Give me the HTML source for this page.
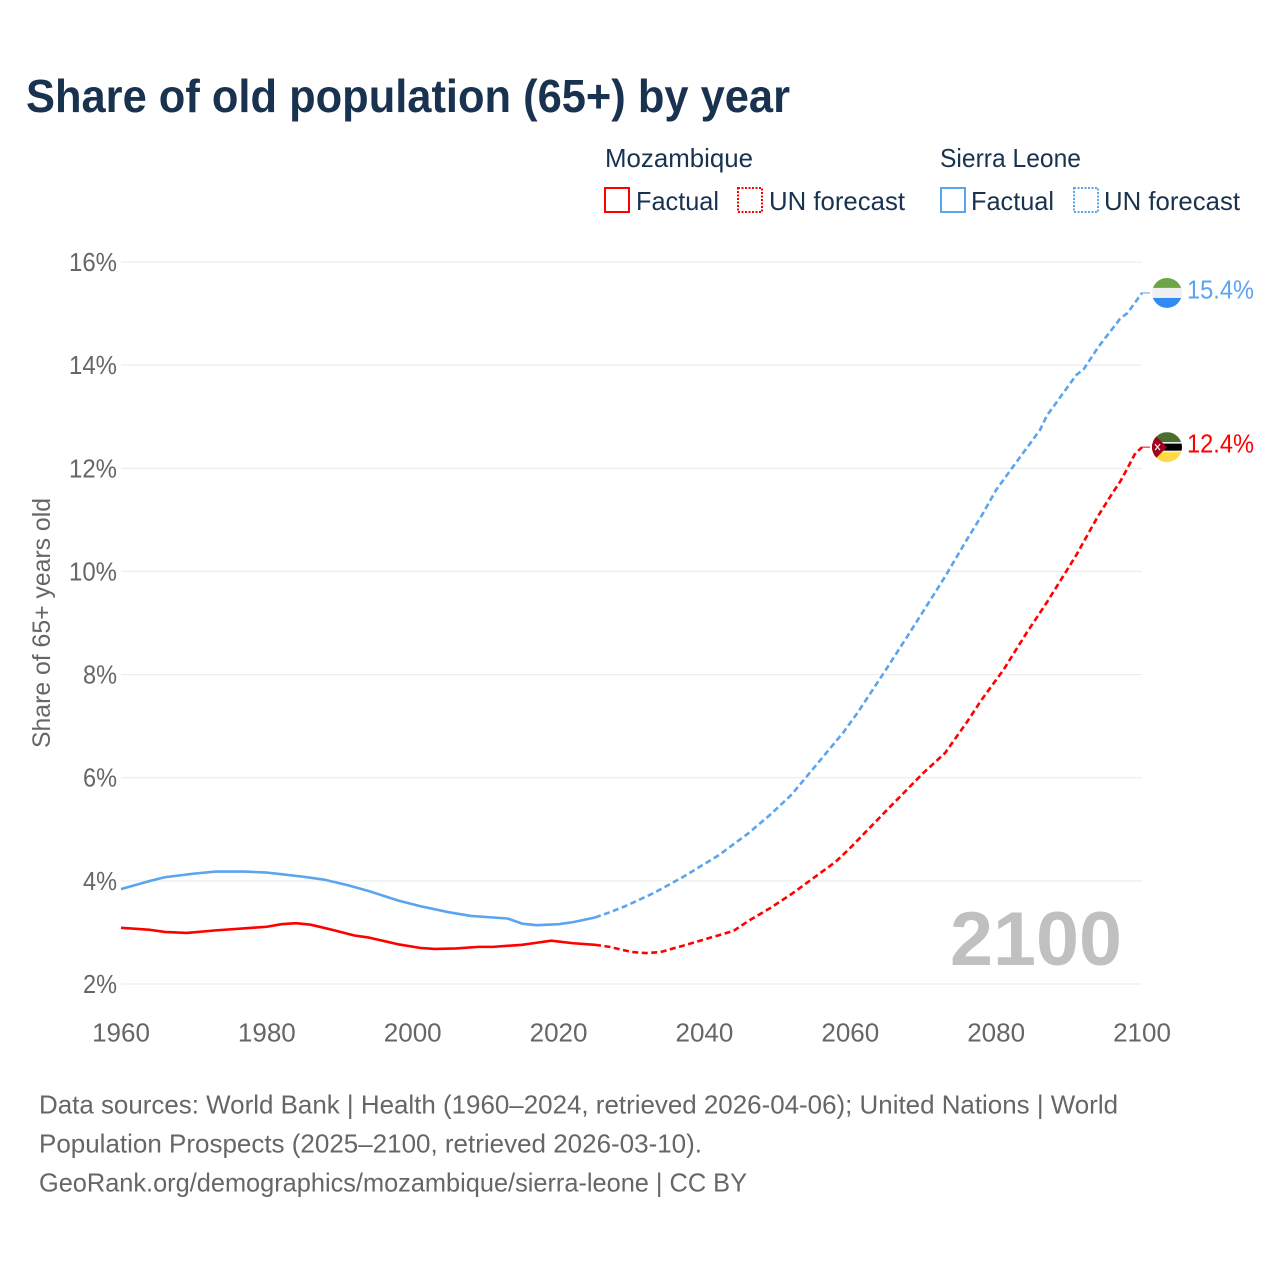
<!DOCTYPE html>
<html lang="en">
<head>
<meta charset="utf-8">
<title>Share of old population (65+) by year</title>
<style>
html,body{margin:0;padding:0;background:#fff;}
svg{display:block;font-family:"Liberation Sans",sans-serif;}
</style>
</head>
<body>
<svg id="chart" xmlns="http://www.w3.org/2000/svg" width="1280" height="1280" viewBox="0 0 1280 1280">
  <rect width="1280" height="1280" fill="#fff"/>
  <text x="26" y="112" font-size="46" font-weight="700" fill="#18324f" textLength="764" lengthAdjust="spacingAndGlyphs">Share of old population (65+) by year</text>

  <g font-size="26" fill="#18324f">
    <text x="605" y="167" textLength="148" lengthAdjust="spacingAndGlyphs">Mozambique</text>
    <text x="940" y="167" textLength="141" lengthAdjust="spacingAndGlyphs">Sierra Leone</text>
    <rect x="605" y="188" width="24" height="24" fill="none" stroke="#ff0000" stroke-width="2"/>
    <text x="636" y="210" textLength="83" lengthAdjust="spacingAndGlyphs">Factual</text>
    <rect x="738" y="188" width="24" height="24" fill="none" stroke="#ff0000" stroke-width="2" stroke-dasharray="2 1.5"/>
    <text x="769" y="210" textLength="136" lengthAdjust="spacingAndGlyphs">UN forecast</text>
    <rect x="941" y="188" width="24" height="24" fill="none" stroke="#5ba4f0" stroke-width="2"/>
    <text x="971" y="210" textLength="83" lengthAdjust="spacingAndGlyphs">Factual</text>
    <rect x="1074" y="188" width="24" height="24" fill="none" stroke="#5ba4f0" stroke-width="2" stroke-dasharray="2 1.5"/>
    <text x="1104" y="210" textLength="136" lengthAdjust="spacingAndGlyphs">UN forecast</text>
  </g>

  <g id="grid"></g>
  <g id="yticks"></g>
  <g id="xticks"></g>
  <text transform="translate(50,748) rotate(-90)" font-size="25" fill="#666" textLength="250" lengthAdjust="spacingAndGlyphs">Share of 65+ years old</text>

  <text x="950" y="965" font-size="76" font-weight="700" fill="#c0c0c0" textLength="172" lengthAdjust="spacingAndGlyphs">2100</text>

  <g id="series"></g>

  <defs>
    <clipPath id="flag-clip-sl"><circle id="clip-sl" cx="1167" r="15"/></clipPath>
    <clipPath id="flag-clip-mz"><circle id="clip-mz" cx="1167" r="15"/></clipPath>
  </defs>
  <g id="flag-sl" clip-path="url(#flag-clip-sl)">
    <rect x="1152" y="-15" width="30" height="10" fill="#6da544"/>
    <rect x="1152" y="-5" width="30" height="10" fill="#f0f0f0"/>
    <rect x="1152" y="5" width="30" height="10" fill="#338af3"/>
  </g>
  <g id="flag-mz" clip-path="url(#flag-clip-mz)">
    <rect x="1152" y="-15" width="30" height="10" fill="#496e2d"/>
    <rect x="1152" y="-5" width="30" height="10" fill="#f0f0f0"/>
    <rect x="1152" y="-3.5" width="30" height="7" fill="#000"/>
    <rect x="1152" y="5" width="30" height="10" fill="#ffda44"/>
    <polygon points="1152,-15 1167,0 1152,15" fill="#a2001d"/>
    <path d="M1155-3l5 6M1160-3l-5 6" stroke="#f0f0f0" stroke-width="1.2"/>
  </g>
  <text id="label-sl" x="1187" font-size="26" fill="#5ba4f0" textLength="67" lengthAdjust="spacingAndGlyphs"></text>
  <text id="label-mz" x="1187" font-size="26" fill="#ff0000" textLength="67" lengthAdjust="spacingAndGlyphs"></text>

  <g font-size="26" fill="#666">
    <text x="39" y="1113.5" textLength="1079" lengthAdjust="spacingAndGlyphs">Data sources: World Bank | Health (1960–2024, retrieved 2026-04-06); United Nations | World</text>
    <text x="39" y="1152.5" textLength="663" lengthAdjust="spacingAndGlyphs">Population Prospects (2025–2100, retrieved 2026-03-10).</text>
    <text x="39" y="1191.5" textLength="708" lengthAdjust="spacingAndGlyphs">GeoRank.org/demographics/mozambique/sierra-leone | CC BY</text>
  </g>
</svg>
<script>
const yTickValues = [2, 4, 6, 8, 10, 12, 14, 16];
const xTickValues = [1960, 1980, 2000, 2020, 2040, 2060, 2080, 2100];

const sierraFactualYears = [1960,1962,1964,1966,1970,1973,1977,1980,1982,1985,1988,1991,1994,1998,2001,2005,2008,2012,2013,2015,2017,2020,2022,2025];
const sierraFactualValues = [3.84,3.92,4.0,4.07,4.14,4.18,4.18,4.16,4.13,4.08,4.02,3.92,3.8,3.62,3.51,3.39,3.32,3.28,3.27,3.17,3.14,3.16,3.2,3.29];
const sierraForecastYears = [2025,2027,2029,2033,2037,2042,2046,2049,2052,2054,2056,2059,2061,2065,2068,2071,2073,2076,2078,2080,2082,2086,2087,2089,2091,2092,2094,2097,2098,2100];
const sierraForecastValues = [3.29,3.39,3.5,3.76,4.07,4.5,4.92,5.28,5.68,6.02,6.36,6.87,7.26,8.12,8.78,9.45,9.9,10.62,11.08,11.58,11.97,12.74,13.03,13.42,13.81,13.92,14.35,14.9,15.01,15.4];

const mozFactualYears = [1960,1964,1966,1969,1973,1977,1980,1982,1984,1986,1989,1992,1994,1998,2001,2003,2006,2009,2011,2015,2017,2019,2022,2025];
const mozFactualValues = [3.09,3.05,3.01,2.99,3.04,3.08,3.11,3.16,3.18,3.15,3.05,2.94,2.9,2.77,2.7,2.68,2.69,2.72,2.72,2.76,2.8,2.84,2.79,2.76];
const mozForecastYears = [2025,2027,2030,2032,2034,2037,2044,2046,2049,2052,2055,2058,2060,2065,2070,2073,2076,2078,2081,2084,2087,2090,2091,2094,2096,2097,2098,2099,2100];
const mozForecastValues = [2.76,2.72,2.62,2.6,2.62,2.74,3.03,3.22,3.47,3.75,4.06,4.37,4.64,5.37,6.09,6.48,7.08,7.51,8.09,8.77,9.41,10.09,10.32,11.08,11.53,11.74,12.0,12.27,12.41];

const NS = 'http://www.w3.org/2000/svg';
const xScale = function (year) { return 121 + (year - 1960) * (1142 - 121) / 140; };
const yScale = function (value) { return 984 - (value - 2) * (984 - 262) / 14; };

const gridGroup = document.getElementById('grid');
const yTickGroup = document.getElementById('yticks');
const xTickGroup = document.getElementById('xticks');
const seriesGroup = document.getElementById('series');

yTickValues.forEach(function (v) {
  const line = document.createElementNS(NS, 'line');
  
  
  line.setAttribute('x1', xScale(1960));
  line.setAttribute('x2', xScale(2100));
  line.setAttribute('y1', yScale(v));
  line.setAttribute('y2', yScale(v));
  line.setAttribute('stroke', '#e9e9e9');
  line.setAttribute('stroke-width', '1');
  gridGroup.appendChild(line);

  const label = document.createElementNS(NS, 'text');
  
  
  label.setAttribute('x', 117);
  label.setAttribute('y', yScale(v) + 9);
  label.setAttribute('text-anchor', 'end');
  label.setAttribute('font-size', '26');
  label.setAttribute('fill', '#666');
  label.setAttribute('textLength', v >= 10 ? 48 : 34);
  label.setAttribute('lengthAdjust', 'spacingAndGlyphs');
  label.textContent = v + '%';
  yTickGroup.appendChild(label);
});

xTickValues.forEach(function (yr) {
  const label = document.createElementNS(NS, 'text');
  
  
  label.setAttribute('x', xScale(yr));
  label.setAttribute('y', 1041.5);
  label.setAttribute('text-anchor', 'middle');
  label.setAttribute('font-size', '26');
  label.setAttribute('fill', '#666');
  label.textContent = yr;
  xTickGroup.appendChild(label);
});

function drawLine(name, years, values, color, dash) {
  const path = document.createElementNS(NS, 'polyline');
  
  
  path.setAttribute('points', years.map(function (yr, i) {
    return xScale(yr).toFixed(2) + ',' + yScale(values[i]).toFixed(2);
  }).join(' '));
  path.setAttribute('fill', 'none');
  path.setAttribute('stroke', color);
  path.setAttribute('stroke-width', '2.6');
  path.setAttribute('stroke-linejoin', 'round');
  if (dash) path.setAttribute('stroke-dasharray', dash);
  seriesGroup.appendChild(path);
}

drawLine('sierra-leone-factual-line', sierraFactualYears, sierraFactualValues, '#5ba4f0', null);
drawLine('sierra-leone-forecast-line', sierraForecastYears, sierraForecastValues, '#5ba4f0', '6 3.5');
drawLine('mozambique-factual-line', mozFactualYears, mozFactualValues, '#ff0000', null);
drawLine('mozambique-forecast-line', mozForecastYears, mozForecastValues, '#ff0000', '6 3.5');

function placeEnd(name, value, color, flagId, clipId, labelId) {
  const y = yScale(value);
  const stub = document.createElementNS(NS, 'line');
  
  
  stub.setAttribute('x1', xScale(2100));
  stub.setAttribute('x2', xScale(2100) + 8);
  stub.setAttribute('y1', y);
  stub.setAttribute('y2', y);
  stub.setAttribute('stroke', color);
  stub.setAttribute('stroke-width', '1');
  seriesGroup.appendChild(stub);
  document.getElementById(clipId).setAttribute('cy', 0);
  document.getElementById(flagId).setAttribute('transform', 'translate(0,' + y + ')');
  const label = document.getElementById(labelId);
  label.setAttribute('y', y + 5.5);
  label.textContent = value.toFixed(1) + '%';
}

placeEnd('sierra-leone', sierraForecastValues[sierraForecastValues.length - 1], '#5ba4f0', 'flag-sl', 'clip-sl', 'label-sl');
placeEnd('mozambique', mozForecastValues[mozForecastValues.length - 1], '#ff0000', 'flag-mz', 'clip-mz', 'label-mz');
</script>
</body>
</html>
